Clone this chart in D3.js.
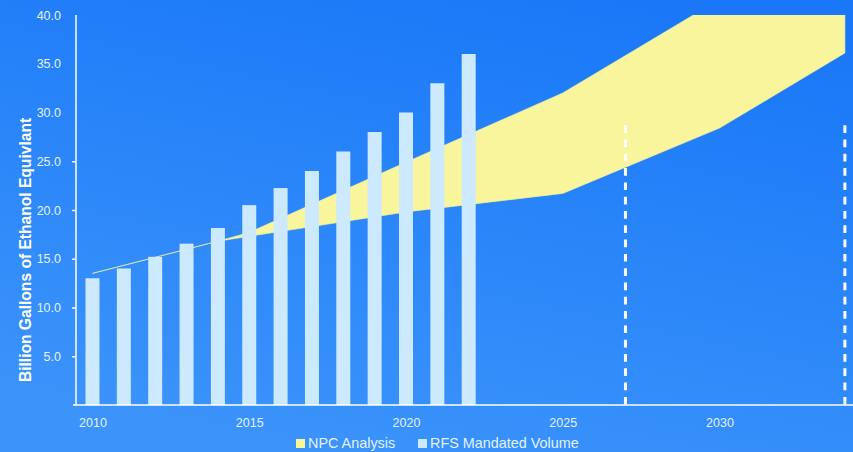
<!DOCTYPE html>
<html>
<head>
<meta charset="utf-8">
<script src="https://cdn.jsdelivr.net/npm/d3@7"></script>
<style>
    body { margin: 0; padding: 0; overflow: hidden; }
    svg { display: block; font-family: "Liberation Sans", Arial, sans-serif; }
    .tick text { fill: #e4f1ff; font-size: 12.5px; }
    .legend text { fill: #e4f1ff; font-size: 14.4px; }
</style>
</head>
<body>
<svg width="853" height="452"></svg>
<script>
// RFS mandated volume, by year
const rfsYears = [2010, 2011, 2012, 2013, 2014, 2015, 2016, 2017, 2018, 2019, 2020, 2021, 2022];
const rfsValues = [13.0, 14.0, 15.2, 16.55, 18.15, 20.5, 22.25, 24.0, 26.0, 28.0, 30.0, 33.0, 36.0];

// NPC analysis range (low / high)
const npcYears = [2010, 2014, 2015, 2020, 2025, 2030, 2034];
const npcLow = [13.5, 16.8, 17.3, 19.8, 21.7, 28.4, 36.1];
const npcHigh = [13.5, 16.8, 17.7, 24.9, 32.0, 41.6, 46.0];

// dashed marker years
const markerYears = [2027, 2034];
const markerTop = 28.7;

const xTicks = [2010, 2015, 2020, 2025, 2030];
const yTicks = [5, 10, 15, 20, 25, 30, 35, 40];
const legendItems = [
    { label: "NPC Analysis", color: "#f8f59c" },
    { label: "RFS Mandated Volume", color: "#cce9fe" }
];

const svg = d3.select("svg"),
    width = +svg.attr("width"),
    height = +svg.attr("height");

const defs = svg.append("defs");
const grad = defs.append("linearGradient")
    .attr("id", "bg")
    .attr("x1", "0.7").attr("y1", "0")
    .attr("x2", "0.3").attr("y2", "1");
grad.append("stop").attr("offset", "0").attr("stop-color", "#1a78f8");
grad.append("stop").attr("offset", "1").attr("stop-color", "#3c94fa");

svg.append("rect")
    .attr("width", width)
    .attr("height", height)
    .attr("fill", "url(#bg)");

const x = d3.scaleLinear().domain([2010, 2030]).range([92.5, 719.5]);
const y = d3.scaleLinear().domain([0, 40]).range([405, 15]);

defs.append("clipPath").attr("id", "plot")
    .append("rect")
    .attr("x", 76).attr("y", y(40))
    .attr("width", width - 76).attr("height", y(0) - y(40));

// NPC band
const npc = npcYears.map((yr, i) => ({ year: yr, low: npcLow[i], high: npcHigh[i] }));
const area = d3.area()
    .x(d => x(d.year))
    .y0(d => y(d.low))
    .y1(d => y(d.high));

svg.append("path")
    .datum(npc)
    .attr("clip-path", "url(#plot)")
    .attr("fill", "#f8f59c")
    .attr("stroke", "#f8f59c")
    .attr("stroke-width", 0.6)
    .attr("d", area);

// RFS bars
const barW = 14;
svg.append("g")
    .selectAll("rect")
    .data(rfsYears.map((yr, i) => ({ year: yr, value: rfsValues[i] })))
    .enter().append("rect")
    .attr("x", d => x(d.year) - barW / 2)
    .attr("y", d => y(d.value))
    .attr("width", barW)
    .attr("height", d => y(0) - y(d.value))
    .attr("fill", "#cce9fe");

// dashed markers
svg.append("g")
    .selectAll("line")
    .data(markerYears)
    .enter().append("line")
    .attr("x1", d => x(d))
    .attr("x2", d => x(d))
    .attr("y1", y(markerTop))
    .attr("y2", y(0))
    .attr("stroke", "#ffffff")
    .attr("stroke-width", 3)
    .attr("stroke-dasharray", "7.7,6.6");

// y axis
const yAxis = svg.append("g")
    .attr("transform", "translate(76,0)")
    .call(d3.axisLeft(y).tickValues(yTicks).tickFormat(d3.format(".1f")).tickSizeInner(4).tickSizeOuter(0).tickPadding(11));
yAxis.select(".domain").remove();
yAxis.selectAll(".tick line").attr("stroke", "#ffffff")
    .attr("stroke-width", 1.5)
    .filter(d => d > 25).remove();
yAxis.append("line")
    .attr("x1", 0).attr("x2", 0)
    .attr("y1", y(40)).attr("y2", y(0))
    .attr("stroke", "#ffffff").attr("stroke-width", 1.5);

// x axis
const xAxis = svg.append("g")
    .attr("transform", `translate(0,${y(0)})`)
    .call(d3.axisBottom(x).tickValues(xTicks).tickFormat(d3.format("d")).tickSize(0).tickPadding(13));
xAxis.select(".domain").remove();
xAxis.append("line")
    .attr("x1", 73).attr("x2", width)
    .attr("y1", 0).attr("y2", 0)
    .attr("stroke", "#ffffff").attr("stroke-width", 1.5);

// y title
svg.append("text")
    .attr("transform", "translate(31,250) rotate(-90)")
    .attr("text-anchor", "middle")
    .attr("fill", "#ffffff")
    .style("font-size", "15.6px")
    .style("font-weight", "bold")
    .text("Billion Gallons of Ethanol Equivlant");

// legend
const legend = svg.append("g").attr("class", "legend");
const legendX = [296, 418];
legendItems.forEach((item, i) => {
    const g = legend.append("g").attr("transform", `translate(${legendX[i]},439)`);
    g.append("rect").attr("width", 9).attr("height", 9).attr("fill", item.color);
    g.append("text").attr("x", 12).attr("y", 9).text(item.label);
});
</script>
</body>
</html>
